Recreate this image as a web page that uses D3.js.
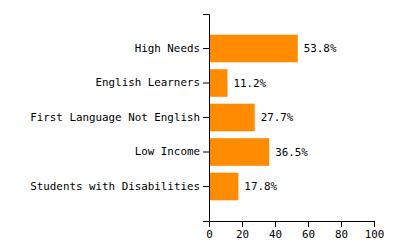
<!DOCTYPE html>
<html>
<head>
<meta charset="utf-8">
<script src="https://cdn.jsdelivr.net/npm/d3@7"></script>
<style>
    body { margin: 0; background: #fff; }
    .chart text { font-family: "DejaVu Sans Mono", monospace; font-size: 10.85px; fill: #000; }
    .chart .domain, .chart .tick line { stroke: #000; }
</style>
</head>
<body>
<svg id="chart" class="chart"></svg>
<script>
const categories = ['High Needs', 'English Learners', 'First Language Not English', 'Low Income', 'Students with Disabilities']
const percents = [53.8, 11.2, 27.7, 36.5, 17.8]
const xTicks = [0, 20, 40, 60, 80, 100]

const width = 400
const height = 250
const margin = { top: 14, right: 26, bottom: 29, left: 209 }

const svg = d3.select('#chart')
    .attr('width', width)
    .attr('height', height)

const g = svg.append('g')
    .attr('transform', `translate(${margin.left},${margin.top})`)

const innerW = width - margin.left - margin.right
const innerH = height - margin.top - margin.bottom

const x = d3.scaleLinear().domain([0, 100]).range([0, innerW])
const y = d3.scaleBand()
    .domain(categories)
    .range([0, innerH])
    .paddingInner(0.2)
    .paddingOuter(0.6)

const data = categories.map((c, i) => ({ name: c, value: percents[i] }))

g.selectAll('rect')
    .data(data)
    .join('rect')
    .attr('x', 0)
    .attr('y', d => y(d.name))
    .attr('width', d => x(d.value))
    .attr('height', y.bandwidth())
    .attr('fill', '#ff8c00')

g.selectAll('.value')
    .data(data)
    .join('text')
    .attr('class', 'value')
    .attr('x', d => x(d.value) + 6)
    .attr('y', d => y(d.name) + y.bandwidth() / 2)
    .attr('dy', '0.35em')
    .text(d => d.value.toFixed(1) + '%')

g.append('g')
    .attr('transform', `translate(0,${innerH})`)
    .call(d3.axisBottom(x).tickValues(xTicks))

g.append('g')
    .call(d3.axisLeft(y))

svg.selectAll('.tick text').style('font-family', '"DejaVu Sans Mono", monospace').style('font-size', '10.85px')
</script>
</body>
</html>
